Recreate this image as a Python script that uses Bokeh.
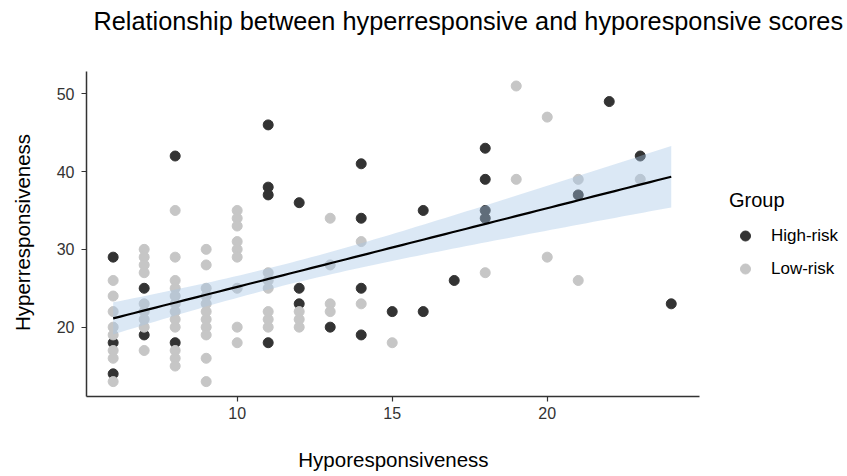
import numpy as np
from bokeh.plotting import figure
from bokeh.models import Range1d, FixedTicker, Legend, LegendItem, ColumnDataSource, Label
from bokeh.embed import file_html
from bokeh.resources import INLINE

# ---- data ----
high_x = [6, 6, 6, 7, 7, 8, 8, 11, 11, 11, 11, 12, 12, 12, 13, 14, 14, 14, 14,
          15, 16, 16, 17, 18, 18, 18, 18, 21, 22, 23, 24]
high_y = [29, 18, 14, 25, 19, 42, 18, 46, 38, 37, 18, 36, 25, 23, 20, 41, 34, 25, 19,
          22, 35, 22, 26, 43, 39, 35, 34, 37, 49, 42, 23]

low_x = ([6] * 8 + [7] * 9 + [8] * 12 + [9] * 11 + [10] * 9 + [11] * 6 + [12] * 3 +
         [13] * 4 + [14] * 2 + [15] + [18] + [19] * 2 + [20] * 2 + [21] * 2 + [23])
low_y = ([26, 24, 22, 20, 19, 17, 16, 13] +
         [30, 29, 28, 27, 23, 22, 21, 20, 17] +
         [35, 29, 26, 25, 24, 23, 22, 21, 20, 17, 16, 15] +
         [30, 28, 25, 24, 23, 22, 21, 20, 19, 16, 13] +
         [35, 34, 33, 31, 30, 29, 25, 20, 18] +
         [27, 26, 25, 22, 21, 20] +
         [22, 21, 20] +
         [34, 28, 23, 22] +
         [31, 23] +
         [18] +
         [27] +
         [51, 39] +
         [47, 29] +
         [39, 26] +
         [39])

groups = ["High-risk", "Low-risk"]
x_ticks = [10, 15, 20]
y_ticks = [20, 30, 40, 50]
title_text = "Relationship between hyperresponsive and hyporesponsive scores"
x_title = "Hyporesponsiveness"
y_title = "Hyperresponsiveness"

# ---- linear fit with 95% confidence band ----
ax = np.array(high_x + low_x, dtype=float)
ay = np.array(high_y + low_y, dtype=float)
n = len(ax)
slope, intercept = np.polyfit(ax, ay, 1)
resid = ay - (intercept + slope * ax)
s = np.sqrt(np.sum(resid ** 2) / (n - 2))
xbar = ax.mean()
sxx = np.sum((ax - xbar) ** 2)
gx = np.linspace(ax.min(), ax.max(), 80)
gy = intercept + slope * gx
se = s * np.sqrt(1.0 / n + (gx - xbar) ** 2 / sxx)
tq = 1.98
band = ColumnDataSource(dict(x=gx, lo=gy - tq * se, hi=gy + tq * se))

FONT = "Liberation Sans"

# panel data extent (ggplot-style 5% expansion); the canvas-wide frame leaves room
# for titles and legend around it
x_lo, x_hi = 5.14, 24.9
y_lo, y_hi = 11.09, 52.9

p = figure(width=845, height=474, output_backend="svg", toolbar_location=None,
           x_range=Range1d(2.366, 29.62), y_range=Range1d(1.06, 61.99),
           min_border_left=0, min_border_right=0, min_border_top=0,
           min_border_bottom=0)

r_hi = p.scatter(high_x, high_y, size=10, color="#333333")
r_lo = p.scatter(low_x, low_y, size=10, color="#c6c6c6")
p.varea(x="x", y1="lo", y2="hi", source=band, fill_color="#a6c6e6", fill_alpha=0.4)
p.line(gx, gy, line_color="black", line_width=2.2)

p.add_layout(Label(x=5.366, y=59.3, text=title_text, text_font=FONT,
                   text_font_size="25.3px", text_color="black",
                   text_baseline="alphabetic", text_align="left"))
p.add_layout(Label(x=15.04, y=2.99, text=x_title, text_font=FONT,
                   text_font_size="20.5px", text_color="black",
                   text_baseline="middle", text_align="center"))
p.add_layout(Label(x=3.075, y=32.17, text=y_title, text_font=FONT,
                   text_font_size="20.5px", text_color="black", angle=np.pi / 2,
                   text_baseline="middle", text_align="center"))

p.xgrid.visible = False
p.ygrid.visible = False
p.outline_line_color = None

p.xaxis.ticker = FixedTicker(ticks=x_ticks)
p.yaxis.ticker = FixedTicker(ticks=y_ticks)
p.xaxis.bounds = (x_lo, x_hi)
p.yaxis.bounds = (y_lo, y_hi)
p.xaxis.fixed_location = y_lo
p.yaxis.fixed_location = x_lo
for a in (p.xaxis, p.yaxis):
    a.major_label_text_font = FONT
    a.major_label_text_font_size = "16px"
    a.major_label_text_color = "#333333"
    a.axis_line_color = "#333333"
    a.axis_line_width = 1.5
    a.major_tick_line_color = "#333333"
    a.major_tick_line_width = 1.2
    a.major_tick_out = 5
    a.major_tick_in = 0
    a.minor_tick_line_color = None
p.xaxis.major_label_standoff = 6
p.yaxis.major_label_standoff = 7

legend = Legend(items=[LegendItem(label=groups[0], renderers=[r_hi]),
                       LegendItem(label=groups[1], renderers=[r_lo])],
                location=(729, 193), title="Group")
legend.title_text_font = FONT
legend.title_text_font_size = "20px"
legend.title_text_font_style = "normal"
legend.title_text_color = "black"
legend.title_standoff = 11
legend.label_text_font = FONT
legend.label_text_font_size = "17px"
legend.label_text_color = "black"
legend.border_line_color = None
legend.background_fill_alpha = 0
legend.glyph_width = 32
legend.glyph_height = 25
legend.label_standoff = 10
legend.spacing = 8
legend.margin = 0
legend.padding = 0
p.add_layout(legend)

open("out.html", "w").write(file_html(p, INLINE))
